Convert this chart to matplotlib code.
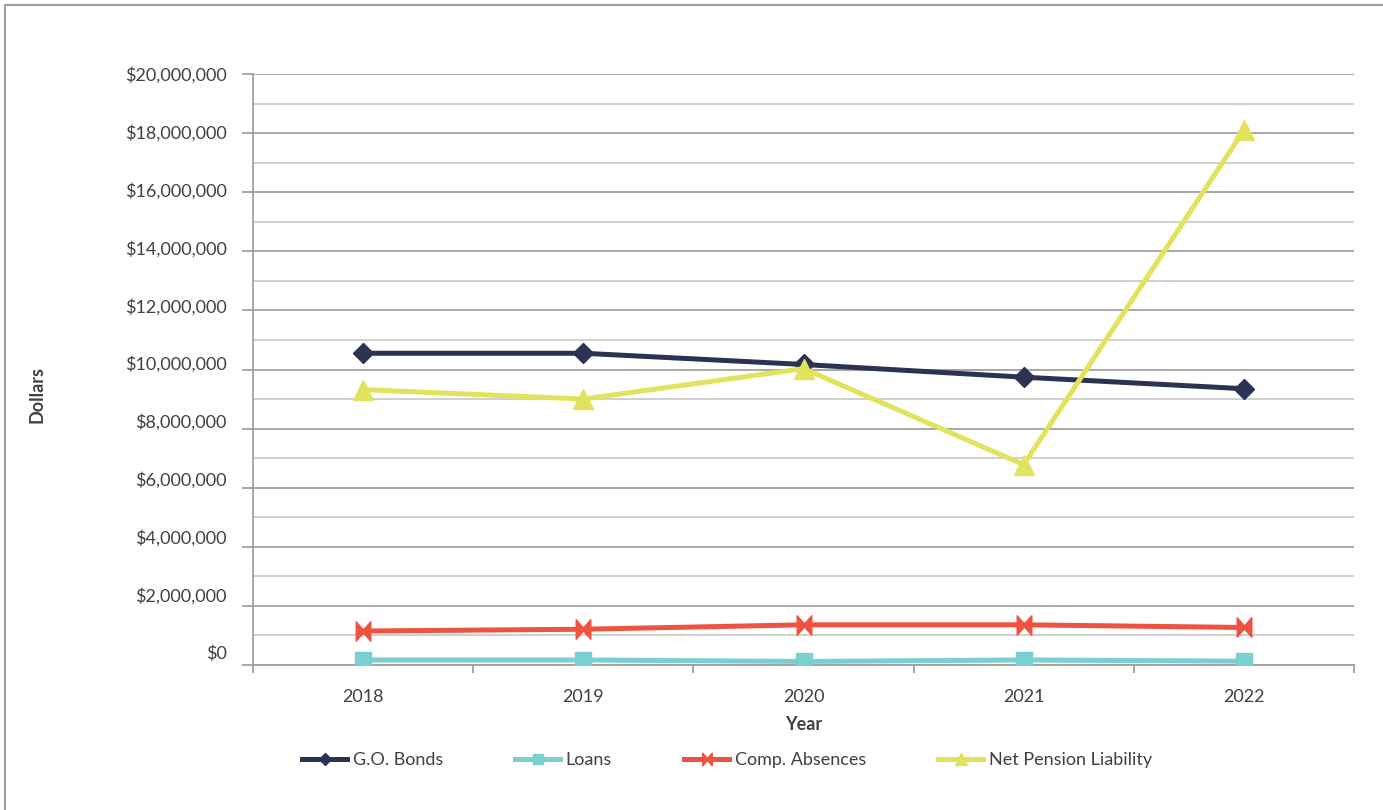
import matplotlib
matplotlib.use("Agg")
import matplotlib.pyplot as plt
import matplotlib.transforms as mtransforms
from matplotlib.lines import Line2D
from matplotlib.path import Path
from matplotlib.ticker import MultipleLocator, FuncFormatter

plt.rcParams['font.family'] = ['Lato', 'DejaVu Sans']

years = ["2018", "2019", "2020", "2021", "2022"]
go_bonds = [10550000, 10550000, 10170000, 9740000, 9350000]
loans = [170000, 170000, 120000, 170000, 130000]
comp_absences = [1150000, 1210000, 1360000, 1360000, 1270000]
net_pension = [9320000, 9000000, 10030000, 6780000, 18100000]

series_names = ["G.O. Bonds", "Loans", "Comp. Absences", "Net Pension Liability"]

# bow-tie marker for the compensated absences series
bowtie = Path([(-0.75, 1), (0, 0.15), (0.75, 1), (0.75, -1), (0, -0.15), (-0.75, -1), (-0.75, 1)],
              [Path.MOVETO] + [Path.LINETO] * 5 + [Path.CLOSEPOLY])

styles = [
    dict(color="#2b3252", marker="D", ms=10),
    dict(color="#7acfd0", marker="s", ms=11),
    dict(color="#ee5240", marker=bowtie, ms=14),
    dict(color="#e1e35c", marker="^", ms=14),
]

fig = plt.figure(figsize=(13.83, 8.10), dpi=100)
ax = fig.add_axes([253 / 1383, 1 - 665 / 810, (1354 - 253) / 1383, (665 - 74) / 810])

x = list(range(len(years)))
for vals, name, st in zip([go_bonds, loans, comp_absences, net_pension], series_names, styles):
    ax.plot(x, vals, color=st["color"], lw=3.6, marker=st["marker"], ms=st["ms"],
            mec=st["color"], mfc=st["color"], label=name, zorder=3)

ax.set_xlim(-0.5, len(years) - 0.5)
ax.set_ylim(0, 20000000)

ax.yaxis.set_major_locator(MultipleLocator(2000000))
ax.yaxis.set_minor_locator(MultipleLocator(1000000))
ax.yaxis.set_major_formatter(FuncFormatter(lambda v, p: f"${v:,.0f}"))
ax.grid(which="major", axis="y", color="#a0a0a0", lw=1.3)
ax.grid(which="minor", axis="y", color="#cccccc", lw=1.3)
ax.set_axisbelow(True)

ax.set_xticks([i - 0.5 for i in range(len(years) + 1)])
ax.set_xticklabels([])
ax.set_xticks(x, minor=True)
ax.set_xticklabels(years, minor=True)

ax.tick_params(axis="y", which="major", length=8, width=1.3, color="#a0a0a0",
               labelsize=13, labelcolor="#404040", pad=11)
ax.tick_params(axis="y", which="minor", length=0)
ax.tick_params(axis="x", which="major", length=6, width=1.3, color="#a0a0a0", direction="out")
ax.tick_params(axis="x", which="minor", length=0, labelsize=13, labelcolor="#404040", pad=17)

for s in ["top", "right"]:
    ax.spines[s].set_visible(False)
for s in ["left", "bottom"]:
    ax.spines[s].set_color("#a0a0a0")
    ax.spines[s].set_linewidth(1.3)

# value labels sit progressively higher toward the bottom of the scale
for lbl, val in zip(ax.get_yticklabels(), ax.get_yticks()):
    dy = 13 * (1 - val / 20000000) / 100
    lbl.set_transform(lbl.get_transform() + mtransforms.ScaledTranslation(0, dy, fig.dpi_scale_trans))

ax.set_xlabel("Year", fontsize=13, fontweight="bold", color="#404040", labelpad=8)
fig.text(37 / 1383, 1 - 395 / 810, "Dollars", rotation=90, fontsize=13, fontweight="bold",
         color="#404040", ha="center", va="center")

leg = fig.legend(loc="center", bbox_to_anchor=(727 / 1383, 1 - 760 / 810), ncol=4, frameon=False,
                 fontsize=13, handlelength=2.5, handletextpad=0.3, columnspacing=4.0,
                 labelcolor="#404040", markerscale=0.65)

# outer frame edges
fig.add_artist(Line2D([5 / 1383, 1], [1 - 5 / 810, 1 - 5 / 810], color="#a0a0a0", lw=1.5,
                      transform=fig.transFigure))
fig.add_artist(Line2D([5 / 1383, 5 / 1383], [0, 1 - 5 / 810], color="#a0a0a0", lw=1.5,
                      transform=fig.transFigure))

fig.savefig("out.png", dpi=100)
